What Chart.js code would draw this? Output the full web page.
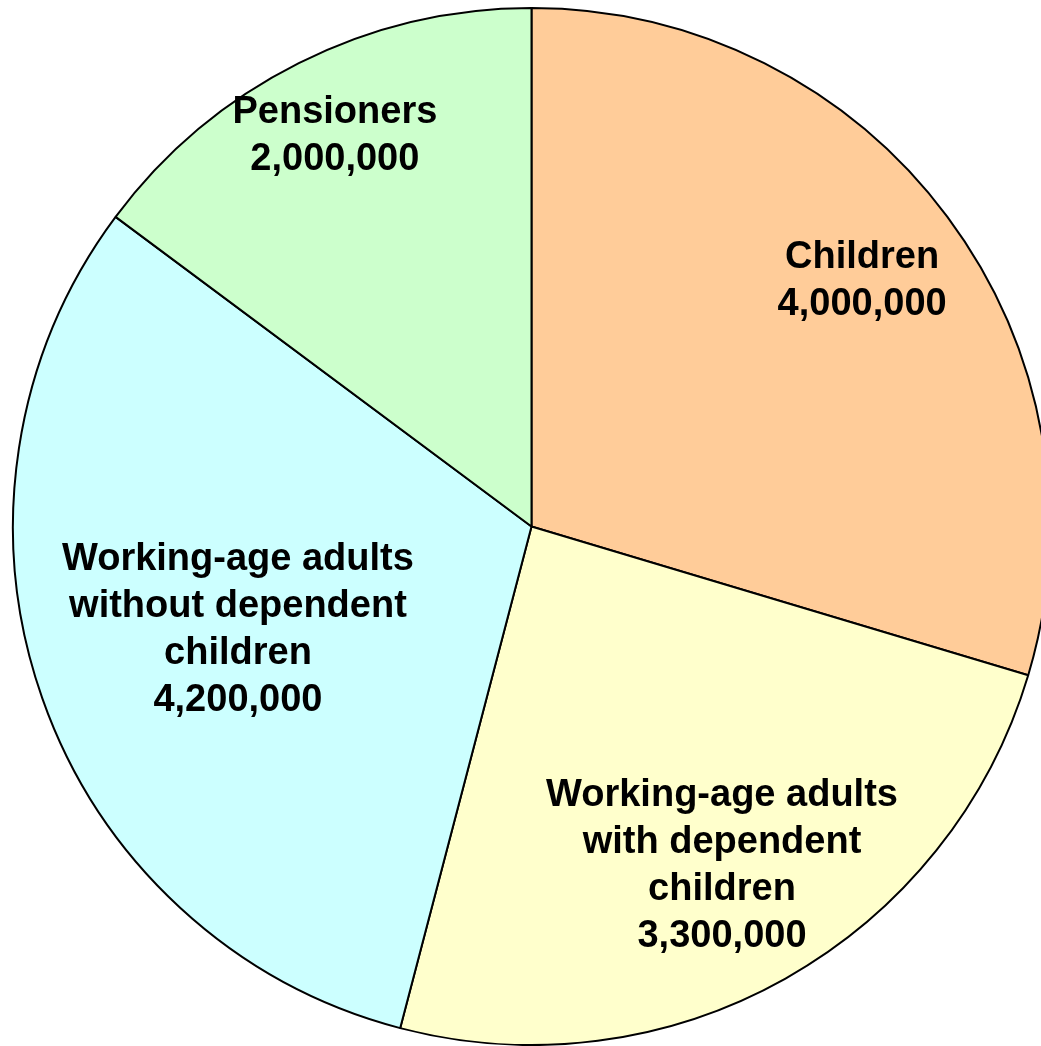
<!DOCTYPE html>
<html>
<head>
<meta charset="utf-8">
<script src="https://cdn.jsdelivr.net/npm/chart.js@4.4.0/dist/chart.umd.min.js"></script>
<style>
    html, body { margin: 0; padding: 0; background: #fff; overflow: hidden; }
    #wrap { width: 1063px; height: 1046px; position: relative; }
</style>
</head>
<body>
<div id="wrap"><canvas id="pieChart"></canvas></div>
<script>
// Data
const categories = [
    ['Children'],
    ['Working-age adults', 'with dependent', 'children'],
    ['Working-age adults', 'without dependent', 'children'],
    ['Pensioners'],
];
const people = [4000000, 3300000, 4200000, 2000000];
const sliceColors = ['#FFCC99', '#FFFFCC', '#CCFFFF', '#CCFFCC'];

// how far out (fraction of radius) each label sits, like excel's best fit
const labelRadius = [0.795, 0.75, 0.6, 0.845];

// Draw the labels on top of the slices
const sliceLabels = {
    id: 'sliceLabels',
    afterDatasetsDraw(chart) {
        const ctx = chart.ctx;
        const meta = chart.getDatasetMeta(0);
        ctx.save();
        ctx.font = 'bold 38px "Liberation Sans", Arial, sans-serif';
        ctx.fillStyle = '#000';
        ctx.textAlign = 'center';
        ctx.textBaseline = 'middle';
        meta.data.forEach((arc, i) => {
            const p = arc.getProps(['x', 'y', 'startAngle', 'endAngle', 'outerRadius'], true);
            const mid = (p.startAngle + p.endAngle) / 2;
            const r = p.outerRadius * labelRadius[i];
            const cx = p.x + Math.cos(mid) * r;
            const cy = p.y + Math.sin(mid) * r + 1;
            const lines = categories[i].concat([people[i].toLocaleString('en-US')]);
            const lh = 47;
            const top = cy - (lines.length - 1) * lh / 2;
            lines.forEach((txt, k) => {
                ctx.fillText(txt, cx, top + k * lh);
            });
        });
        ctx.restore();
    },
};

const ctx = document.getElementById('pieChart').getContext('2d');
const chart = new Chart(ctx, {
    type: 'pie',
    data: {
        labels: categories.map((c) => c.join(' ')),
        datasets: [{
            data: people,
            backgroundColor: sliceColors,
            borderColor: '#000',
            borderWidth: 2,
        }],
    },
    options: {
        responsive: true,
        maintainAspectRatio: false,
        animation: false,
        layout: { padding: { top: 7, bottom: 0, left: 0, right: 0 } },
        plugins: {
            legend: { display: false },
            tooltip: { enabled: false },
        },
    },
    plugins: [sliceLabels],
});
</script>
</body>
</html>
